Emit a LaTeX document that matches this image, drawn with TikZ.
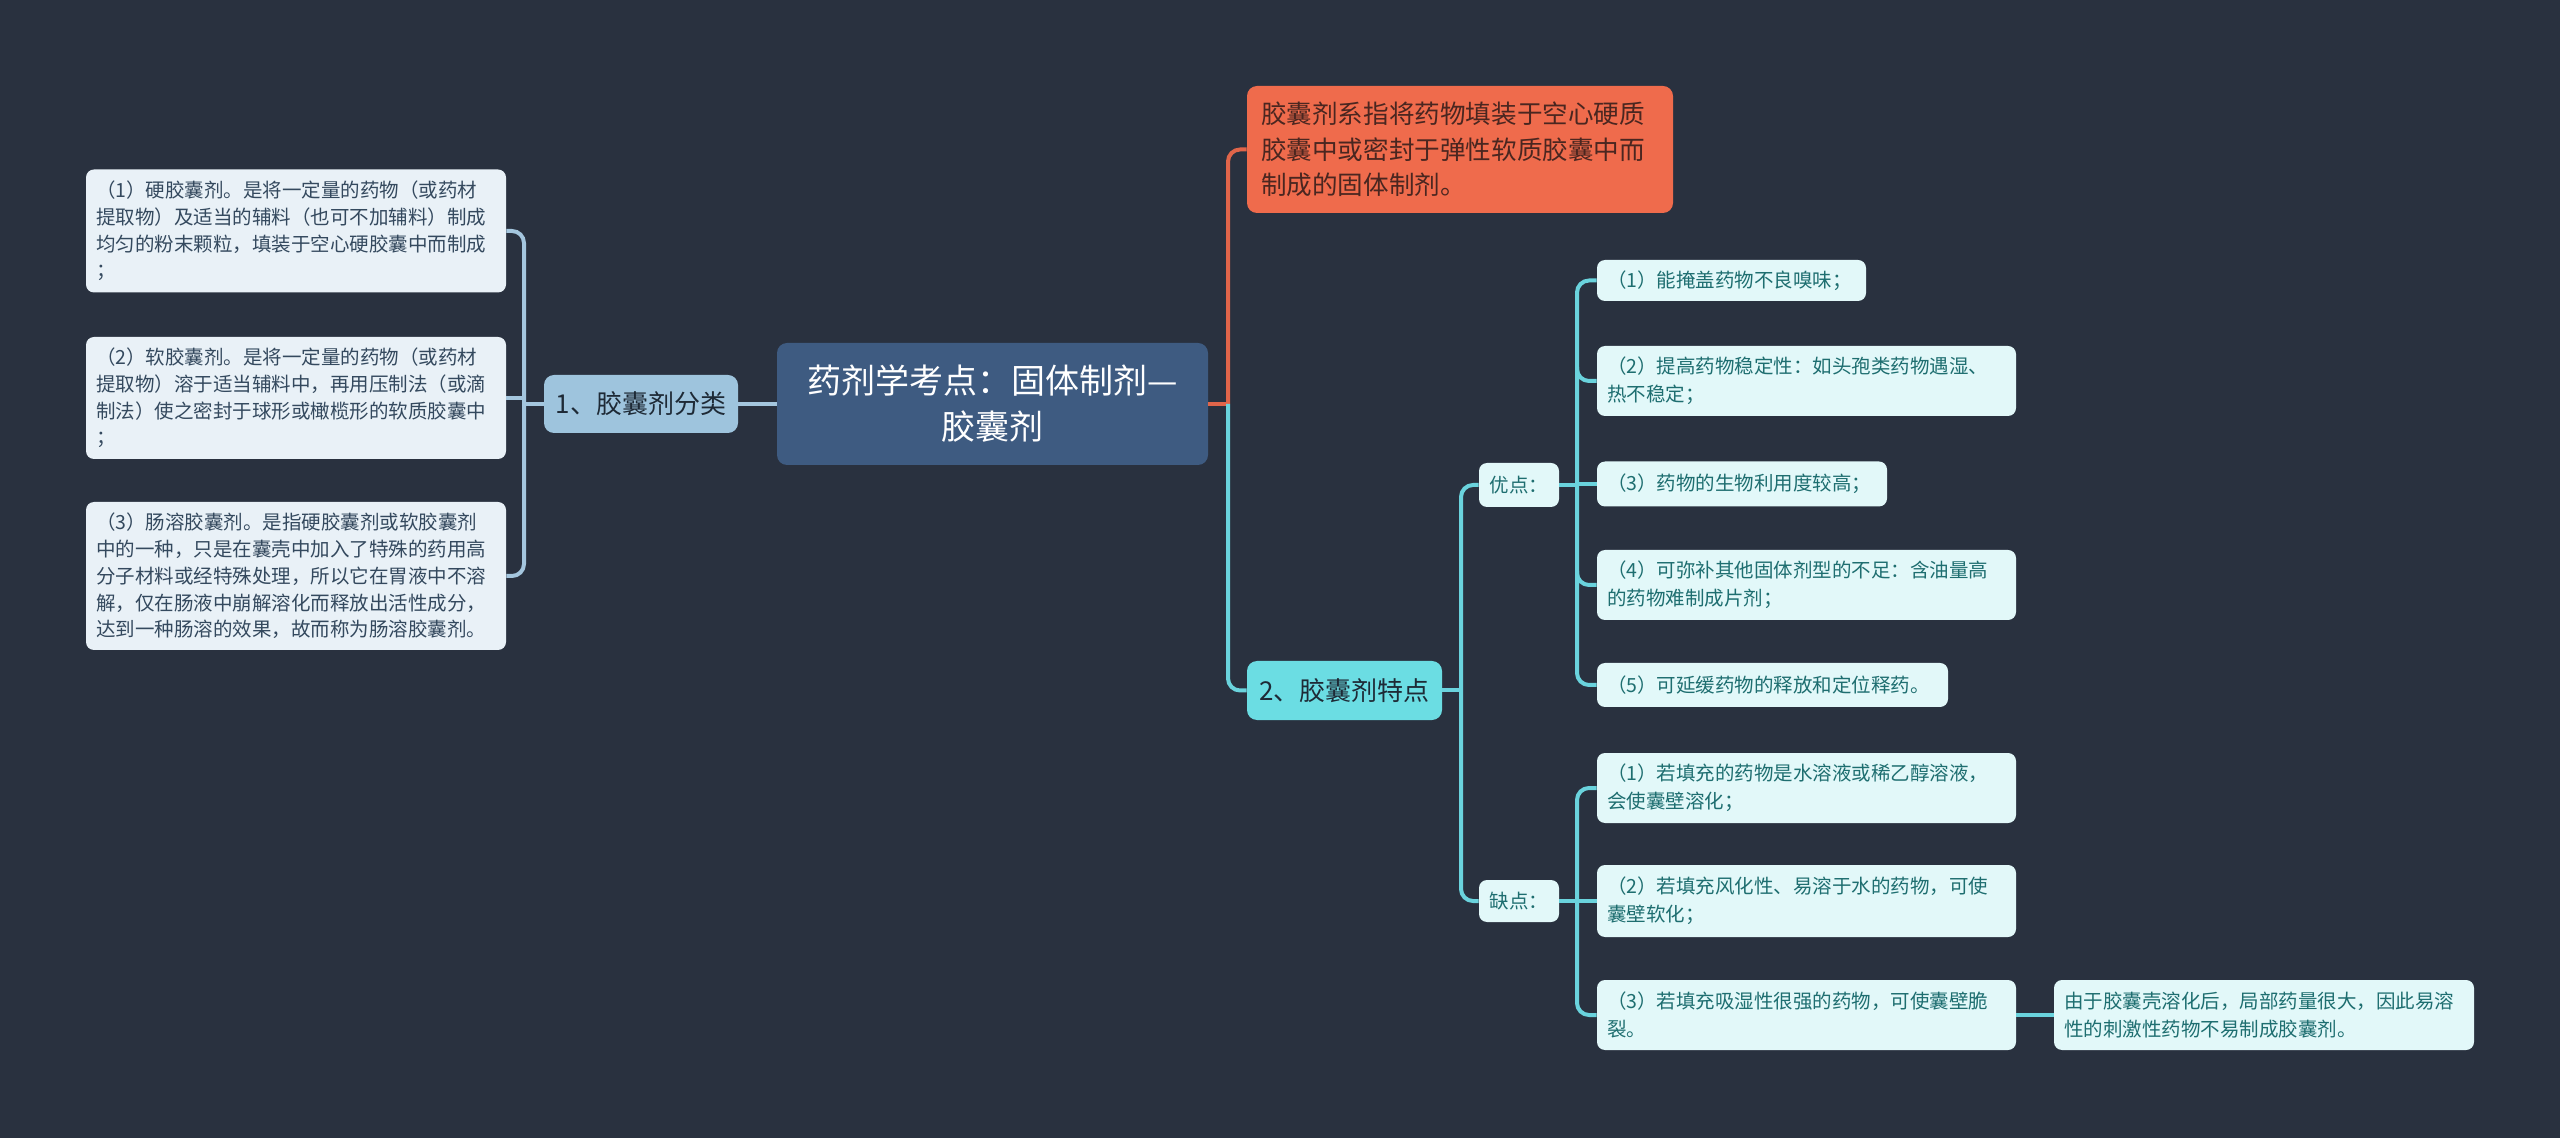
\documentclass[tikz,border=0pt]{standalone}
\usepackage{fontspec}
\setmainfont{Noto Sans CJK SC}
\definecolor{bgcol}{HTML}{29313F}
\definecolor{rootfill}{HTML}{3E5B81}
\definecolor{c1fill}{HTML}{9EC4DD}
\definecolor{lleaffill}{HTML}{E9F1F7}
\definecolor{lleaftext}{HTML}{34495E}
\definecolor{lline}{HTML}{A4C6DE}
\definecolor{orfill}{HTML}{EF6B4C}
\definecolor{ortext}{HTML}{4A2620}
\definecolor{orline}{HTML}{E0654A}
\definecolor{c2fill}{HTML}{6BDDE3}
\definecolor{rleaffill}{HTML}{E2F8F9}
\definecolor{rleaftext}{HTML}{1E6E70}
\definecolor{cline}{HTML}{6AD3DD}
\definecolor{darktext}{HTML}{1E2A36}
\tikzset{
  box/.style={rounded corners=4pt, inner xsep=5pt, inner ysep=0pt, align=left},
  lleaf/.style={box, fill=lleaffill, text=lleaftext, font=\fontsize{9.75pt}{13.4pt}\selectfont},
  rleaf/.style={box, fill=rleaffill, text=rleaftext, font=\fontsize{9.75pt}{14.2pt}\selectfont},
  rootbox/.style={rounded corners=5pt, fill=rootfill, text=white, align=center, inner sep=0pt,
     font=\fontsize{17pt}{23pt}\selectfont},
  catbox/.style={rounded corners=5pt, inner sep=0pt, align=center, text=darktext,
     font=\fontsize{13pt}{16pt}\selectfont},
  orbox/.style={rounded corners=5pt, fill=orfill, text=ortext, inner xsep=7pt, inner ysep=0pt,
     align=left, font=\fontsize{12.8pt}{17.75pt}\selectfont},
  lconn/.style={draw=lline, line width=2pt, rounded corners=6pt},
  oconn/.style={draw=orline, line width=2pt, rounded corners=6pt},
  cconn/.style={draw=cline, line width=2pt, rounded corners=6pt}
}
\begin{document}
\begin{tikzpicture}[x=0.5pt, y=-0.5pt]
\fill[bgcol] (0,0) rectangle (2560,1138);
\useasboundingbox (0,0) rectangle (2560,1138);

% bracket x positions
\coordinate (bl) at (524,0);
\coordinate (br) at (1228,0);
\coordinate (b2) at (1461,0);
\coordinate (b3) at (1577,0);

% root and categories
\node[rootbox, minimum width=215.5pt, minimum height=61pt] (root) at (992.5,404)
  {药剂学考点：固体制剂—\\胶囊剂};
\node[catbox, fill=c1fill, minimum width=97pt, minimum height=29pt] (c1) at (641,404)
  {1、胶囊剂分类};
\node[catbox, fill=c2fill, minimum width=97.5pt, minimum height=29.5pt] (c2) at (1344.5,690.5)
  {2、胶囊剂特点};
\node[orbox, text width=199pt, minimum height=63.5pt] (or) at (1460,149.5)
  {胶囊剂系指将药物填装于空心硬质\\胶囊中或密封于弹性软质胶囊中而\\制成的固体制剂。};

% left leaves
\node[lleaf, text width=200pt, minimum height=61.5pt] (l1) at (296,231)
  {（1）硬胶囊剂。是将一定量的药物（或药材\\提取物）及适当的辅料（也可不加辅料）制成\\均匀的粉末颗粒，填装于空心硬胶囊中而制成\\；};
\node[lleaf, text width=200pt, minimum height=61pt] (l2) at (296,398)
  {（2）软胶囊剂。是将一定量的药物（或药材\\提取物）溶于适当辅料中，再用压制法（或滴\\制法）使之密封于球形或橄榄形的软质胶囊中\\；};
\node[lleaf, text width=200pt, minimum height=74pt] (l3) at (296,576)
  {（3）肠溶胶囊剂。是指硬胶囊剂或软胶囊剂\\中的一种，只是在囊壳中加入了特殊的药用高\\分子材料或经特殊处理，所以它在胃液中不溶\\解，仅在肠液中崩解溶化而释放出活性成分，\\达到一种肠溶的效果，故而称为肠溶胶囊剂。};

% advantages / disadvantages
\node[rleaf, align=center, minimum width=40pt, minimum height=22pt] (yd) at (1519,485) {优点：};
\node[rleaf, align=center, minimum width=40pt, minimum height=21pt] (qd) at (1519,901) {缺点：};

\node[rleaf, text width=124.5pt, minimum height=20.5pt] (a1) at (1731.5,280.5)
  {（1）能掩盖药物不良嗅味；};
\node[rleaf, text width=199.5pt, minimum height=35pt] (a2) at (1806.5,381)
  {（2）提高药物稳定性：如头孢类药物遇湿、\\热不稳定；};
\node[rleaf, text width=135pt, minimum height=22.5pt] (a3) at (1742,484)
  {（3）药物的生物利用度较高；};
\node[rleaf, text width=199.5pt, minimum height=35pt] (a4) at (1806.5,585)
  {（4）可弥补其他固体剂型的不足：含油量高\\的药物难制成片剂；};
\node[rleaf, text width=165.5pt, minimum height=22pt] (a5) at (1772.5,685)
  {（5）可延缓药物的释放和定位释药。};

\node[rleaf, text width=199.5pt, minimum height=35pt] (d1) at (1806.5,788)
  {（1）若填充的药物是水溶液或稀乙醇溶液，\\会使囊壁溶化；};
\node[rleaf, text width=199.5pt, minimum height=36pt] (d2) at (1806.5,901)
  {（2）若填充风化性、易溶于水的药物，可使\\囊壁软化；};
\node[rleaf, text width=199.5pt, minimum height=35pt] (d3) at (1806.5,1015)
  {（3）若填充吸湿性很强的药物，可使囊壁脆\\裂。};
\node[rleaf, text width=200pt, minimum height=35pt] (e1) at (2264,1015)
  {由于胶囊壳溶化后，局部药量很大，因此易溶\\性的刺激性药物不易制成胶囊剂。};

% connectors left
\draw[lconn] (root.west) -- (c1.east);
\draw[lconn] (c1.west) -- (c1.west -| bl);
\draw[lconn] (l1.east) -- (l1.east -| bl) -- (l3.east -| bl) -- (l3.east);
\draw[lconn] (l2.east) -- (l2.east -| bl);

% connectors right
\draw[oconn] (root.east) -- (root.east -| br);
\draw[oconn] (root.east -| br) -- (or.west -| br) -- (or.west);
\draw[cconn] (root.east -| br) -- (c2.west -| br) -- (c2.west);

\draw[cconn] (c2.east) -- (c2.east -| b2);
\draw[cconn] (yd.west) -- (yd.west -| b2) -- (qd.west -| b2) -- (qd.west);

\draw[cconn] (yd.east) -- (yd.east -| b3);
\draw[cconn] (a1.west) -- (a1.west -| b3) -- (a5.west -| b3) -- (a5.west);
\foreach \n in {a2,a4}
  \draw[cconn] (\n.west -| b3) ++(0,-14) [rounded corners=6pt] -- (\n.west -| b3) -- (\n.west);
\draw[cconn] (a3.west -| b3) -- (a3.west);

\draw[cconn] (qd.east) -- (d2.west);
\draw[cconn] (d1.west) -- (d1.west -| b3) -- (d3.west -| b3) -- (d3.west);
\draw[cconn] (d3.east) -- (e1.west);
\end{tikzpicture}
\end{document}
